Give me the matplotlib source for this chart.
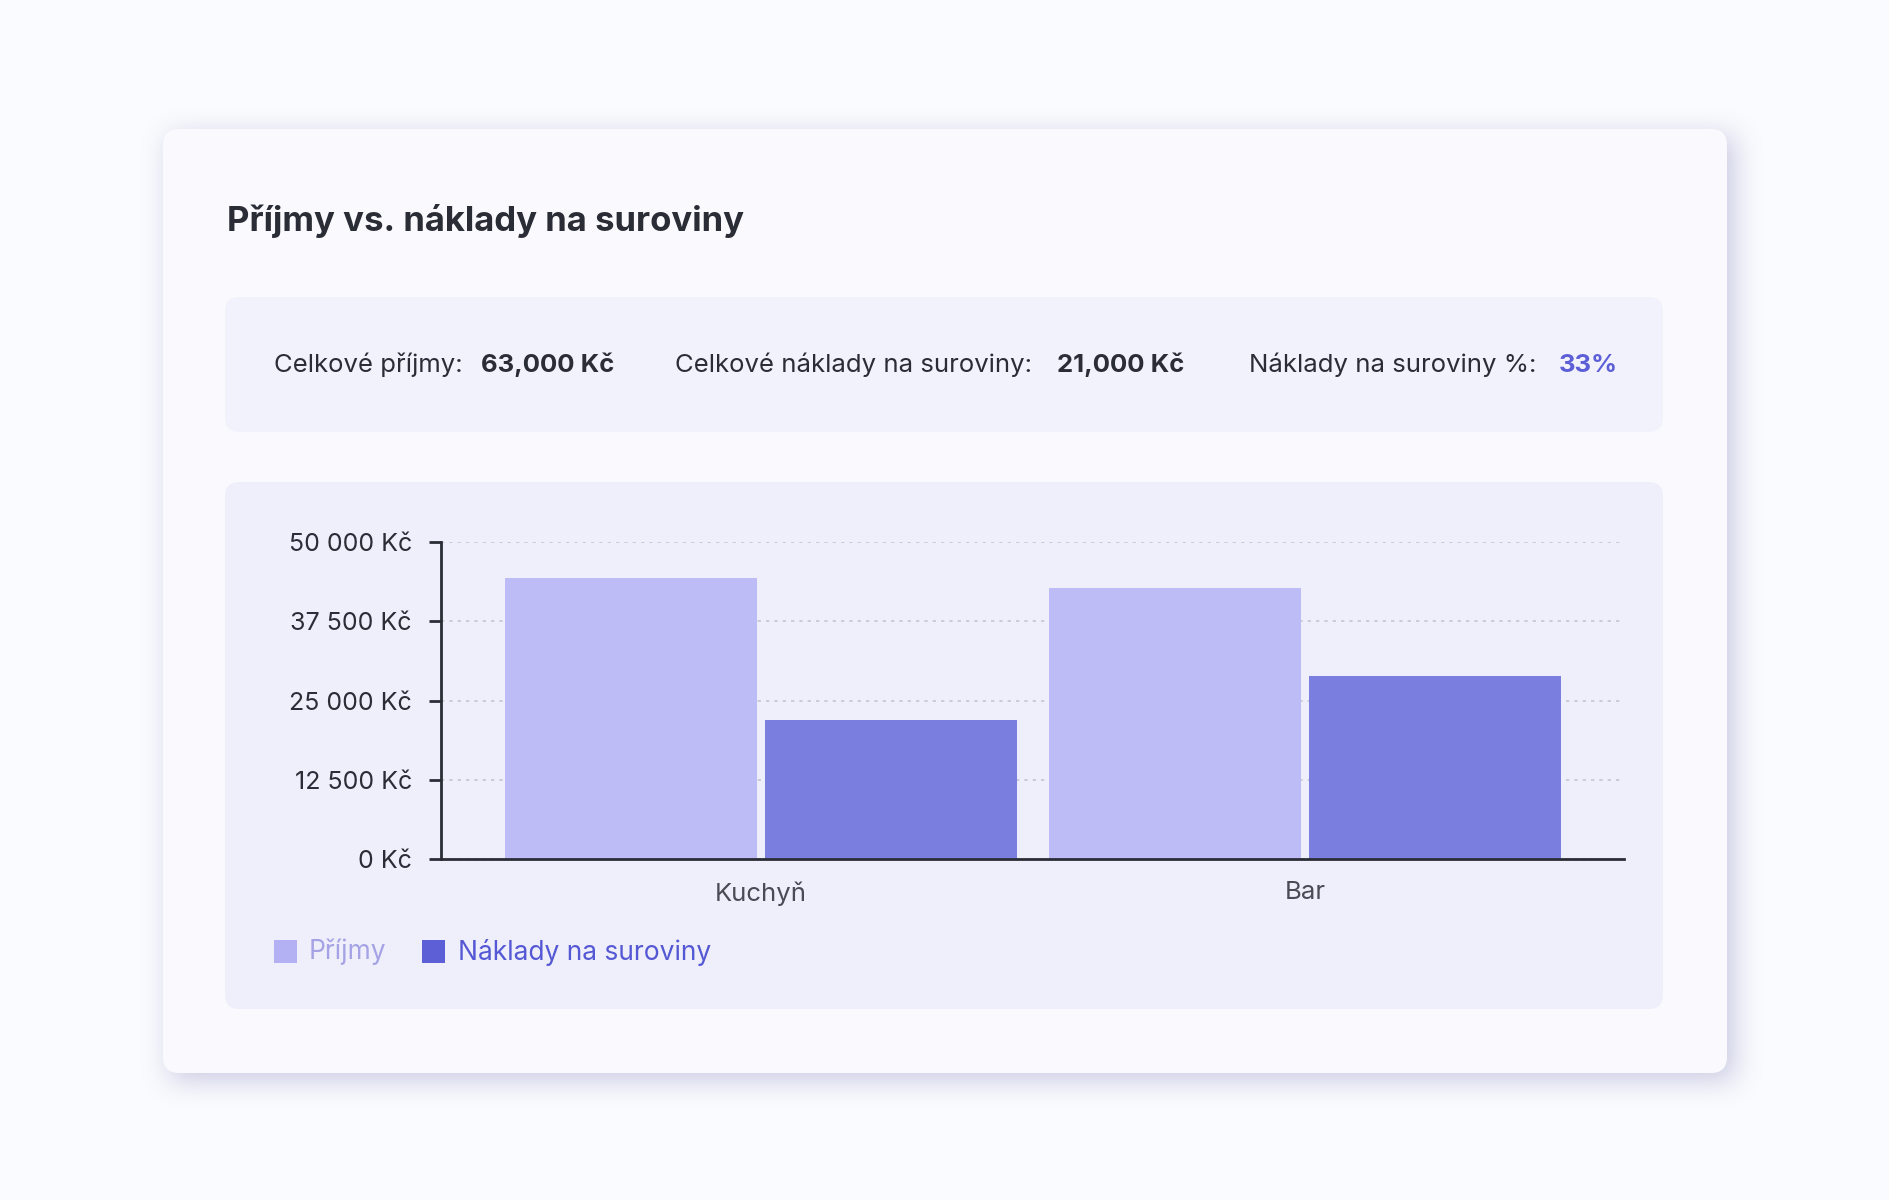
import matplotlib
matplotlib.use('Agg')
import matplotlib.pyplot as plt
import numpy as np
from matplotlib.patches import FancyBboxPatch, Rectangle

# data
categories = ['Kuchyň', 'Bar']
prijmy = [44300, 42800]
naklady = [22000, 28900]
yticks = [0, 12500, 25000, 37500, 50000]
ytick_labels = ['0 Kč', '12 500 Kč', '25 000 Kč', '37 500 Kč', '50 000 Kč']
series_names = ['Příjmy', 'Náklady na suroviny']
stats_labels = ['Celkové příjmy:', 'Celkové náklady na suroviny:', 'Náklady na suroviny %:']
stats_values = ['63,000 Kč', '21,000 Kč', '33%']
title = 'Příjmy vs. náklady na suroviny'

W, H = 1890, 1200
BG = '#FAFBFE'
CARD = '#FAFAFE'
STATS_BG = '#F2F2FC'
CHART_BG = '#EEEFFA'
DARK = '#2B2D36'
C_LIGHT = '#BDBCF6'
C_DARK = '#7A7EDF'
LEG_LIGHT = '#B3B1F4'
LEG_DARK = '#5C5FD6'

plt.rcParams['font.family'] = ['Inter', 'DejaVu Sans']

fig = plt.figure(figsize=(W / 100, H / 100), dpi=100, facecolor=BG)

# background layer in pixel coordinates (y down)
bg = fig.add_axes([0, 0, 1, 1])
bg.axis('off')
bg.set_facecolor(BG)

# soft card shadow
def box_blur(a, r):
    k = np.ones(2 * r + 1) / (2 * r + 1)
    a = np.apply_along_axis(lambda v: np.convolve(v, k, mode='same'), 0, a)
    a = np.apply_along_axis(lambda v: np.convolve(v, k, mode='same'), 1, a)
    return a

mask = np.zeros((H // 2, W // 2))
cx0, cx1, cy0, cy1 = 163, 1727, 129, 1073
off = 8
mask[(cy0 + off) // 2:(cy1 + off) // 2, (cx0 + off) // 2:(cx1 + off) // 2] = 1.0
for _ in range(3):
    mask = box_blur(mask, 6)
shadow = np.zeros((H // 2, W // 2, 4))
shadow[..., 0] = 0.55
shadow[..., 1] = 0.56
shadow[..., 2] = 0.75
shadow[..., 3] = mask * 0.45
bg.imshow(shadow, extent=(0, W, H, 0), zorder=1, interpolation='bilinear')
bg.set_xlim(0, W)
bg.set_ylim(H, 0)
bg.set_aspect('auto')

def rbox(x0, y0, x1, y1, color, r, z):
    p = FancyBboxPatch((x0 + r, y0 + r), (x1 - x0) - 2 * r, (y1 - y0) - 2 * r,
                       boxstyle='round,pad=%d' % r, facecolor=color,
                       edgecolor='none', zorder=z)
    bg.add_patch(p)

rbox(cx0, cy0, cx1, cy1, CARD, 16, 2)
rbox(225, 297, 1663, 432, STATS_BG, 14, 3)
rbox(225, 482, 1663, 1009, CHART_BG, 14, 3)

bg.text(227, 221, title, fontsize=25, fontweight='bold', color=DARK,
        va='center', ha='left', zorder=5)

# stats row
label_x = [274, 675, 1249]
value_x = [481, 1057, 1559]
value_colors = [DARK, DARK, LEG_DARK]
for lab, val, lx, vx, vc in zip(stats_labels, stats_values, label_x, value_x, value_colors):
    bg.text(lx, 365, lab, fontsize=18.5, color=DARK, va='center', ha='left', zorder=5)
    bg.text(vx, 365, val, fontsize=18.5, fontweight='bold', color=vc,
            va='center', ha='left', zorder=5)

# legend
leg_sq_x = [274, 422]
leg_tx_x = [309, 458]
leg_sq_c = [LEG_LIGHT, LEG_DARK]
leg_tx_c = ['#A5A3E6', '#5558D4']
for name, sx, tx, sc, tc in zip(series_names, leg_sq_x, leg_tx_x, leg_sq_c, leg_tx_c):
    bg.add_patch(Rectangle((sx, 940), 23, 23, facecolor=sc, edgecolor='none', zorder=5))
    bg.text(tx, 952, name, fontsize=19, color=tc, va='center', ha='left', zorder=5)

# chart
ax = fig.add_axes([441 / W, 1 - 859 / H, (1624 - 441) / W, (859 - 542) / H])
ax.set_facecolor('none')
x = np.arange(len(categories))
bw = 0.462
ax.bar(x - 0.239, prijmy, width=bw, color=C_LIGHT, edgecolor='none', zorder=3)
ax.bar(x + 0.239, naklady, width=bw, color=C_DARK, edgecolor='none', zorder=3)
ax.set_xlim(-0.588, 1.586)
ax.set_ylim(0, 50000)
ax.set_yticks(yticks)
ax.set_yticklabels(ytick_labels, fontsize=18, color=DARK)
ax.set_xticks(x)
ax.set_xticklabels(categories, fontsize=18.5, color='#4A4B55')
ax.tick_params(axis='x', length=0, pad=16)
ax.tick_params(axis='y', length=9, width=2, color=DARK, pad=12)
ax.yaxis.grid(True, linestyle=(0, (2, 3)), color='#C4C5CE', linewidth=1.2, zorder=0)
for s in ['top', 'right']:
    ax.spines[s].set_visible(False)
for s in ['left', 'bottom']:
    ax.spines[s].set_color(DARK)
    ax.spines[s].set_linewidth(2)
    ax.spines[s].set_zorder(4)

fig.savefig('out.png', dpi=100, facecolor=BG)
